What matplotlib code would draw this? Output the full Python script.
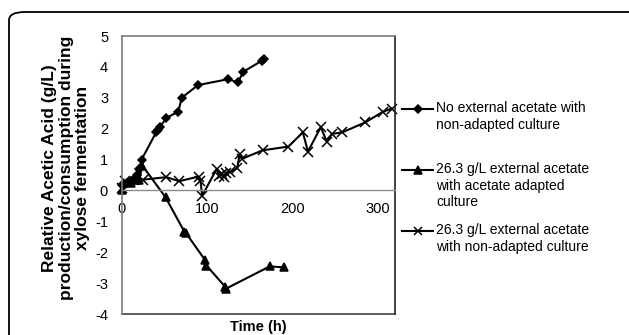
import numpy as np
import matplotlib.pyplot as plt
from matplotlib.lines import Line2D
from matplotlib.patches import FancyBboxPatch

plt.rcParams['font.family'] = ['Liberation Sans', 'DejaVu Sans']
plt.rcParams['axes.unicode_minus'] = False

# no external acetate, non-adapted culture
t_none = [0, 3, 6, 10, 14, 18, 20, 23, 40, 42, 45, 52, 66, 70, 89, 124, 136, 142, 164, 167]
y_none = [0.18, 0.22, 0.25, 0.3, 0.38, 0.5, 0.7, 1.0, 1.88, 1.95, 2.07, 2.35, 2.55, 3.0, 3.41,
          3.6, 3.5, 3.84, 4.2, 4.25]

# 26.3 g/L external acetate, adapted culture
t_adapt = [0, 10, 16, 20, 24, 51, 73, 75, 97, 99, 121, 122, 173, 190]
y_adapt = [0.0, 0.25, 0.33, 0.35, 0.8, -0.22, -1.33, -1.38, -2.24, -2.43, -3.12, -3.18, -2.46, -2.49]

# 26.3 g/L external acetate, non-adapted culture
t_nonad = [0, 4, 25, 52, 67, 90, 92, 94, 111, 114, 117, 119, 122, 127, 135, 138, 141, 165, 195,
           212, 218, 233, 240, 246, 258, 285, 306, 316]
y_nonad = [0.07, 0.3, 0.35, 0.43, 0.3, 0.45, 0.3, -0.17, 0.7, 0.47, 0.52, 0.45, 0.55, 0.6, 0.72,
           1.18, 1.03, 1.3, 1.42, 1.88, 1.26, 2.05, 1.58, 1.83, 1.88, 2.2, 2.55, 2.65]

labels = ['No external acetate with\nnon-adapted culture',
          '26.3 g/L external acetate\nwith acetate adapted\nculture',
          '26.3 g/L external acetate\nwith non-adapted culture']
markers = [('D', 4.5), ('^', 6), ('x', 6.5)]


def main():
    fig = plt.figure(figsize=(6.29, 3.35), dpi=100)

    # rounded outer frame, runs off the right and bottom edges
    frame = FancyBboxPatch((9 / 629, -0.2), 1.2, 1 - 12 / 335 + 0.2,
                           boxstyle='round,pad=0,rounding_size=0.025',
                           transform=fig.transFigure, fill=False, ec='black', lw=1.3)
    fig.add_artist(frame)

    ax = fig.add_axes([122 / 629, 1 - 314 / 335, 273 / 629, 278 / 335])
    series = [(t_none, y_none), (t_adapt, y_adapt), (t_nonad, y_nonad)]
    for (t, y), (m, ms) in zip(series, markers):
        ax.plot(t, y, color='black', lw=1.5, marker=m, ms=ms, mew=1.1, clip_on=False)

    ax.set_xlim(0, 320)
    ax.set_ylim(-4, 5)
    ax.set_xticks([0, 100, 200, 300])
    ax.set_yticks(np.arange(-4, 6))
    ax.tick_params(length=0, labelsize=10.5)
    ax.tick_params(axis='x', pad=8)
    ax.tick_params(axis='y', pad=10)

    # excel style: x axis crosses at zero, box around the plot area
    ax.spines['bottom'].set_position(('data', 0))
    ax.spines['bottom'].set_color('#8c8c8c')
    ax.spines['bottom'].set_linewidth(1)
    for s in ['top', 'left']:
        ax.spines[s].set_color('#7a7a7a')
        ax.spines[s].set_linewidth(1.2)
    ax.spines['right'].set_color('#222222')
    ax.spines['right'].set_linewidth(1.2)
    ax.plot([0, 1], [0, 0], transform=ax.transAxes, color='#444444', lw=1.2, clip_on=False)

    fig.text(258.5 / 629, 1 - 327 / 335, 'Time (h)', ha='center', va='center',
             fontsize=10.5, fontweight='bold')
    fig.text(66 / 629, 1 - 168 / 335,
             'Relative Acetic Acid (g/L)\nproduction/consumption during\nxylose fermentation',
             ha='center', va='center', rotation=90, fontsize=12.5, fontweight='bold',
             linespacing=1.1)

    # legend drawn by hand, marker lines up with the first text row
    rows = [109, 170, 231]
    for lab, (m, ms), r in zip(labels, markers, rows):
        yf = 1 - r / 335
        fig.add_artist(Line2D([402 / 629, 433 / 629], [yf, yf], color='black', lw=1.5,
                              transform=fig.transFigure))
        fig.add_artist(Line2D([417.5 / 629], [yf], color='black', marker=m, ms=ms * 0.9,
                              mew=1.1, transform=fig.transFigure))
        fig.text(436 / 629, 1 - (r - 8) / 335, lab, ha='left', va='top', fontsize=10,
                 linespacing=1.24)

    fig.savefig('out.png', dpi=100)
    return


if __name__ == '__main__':
    main()
